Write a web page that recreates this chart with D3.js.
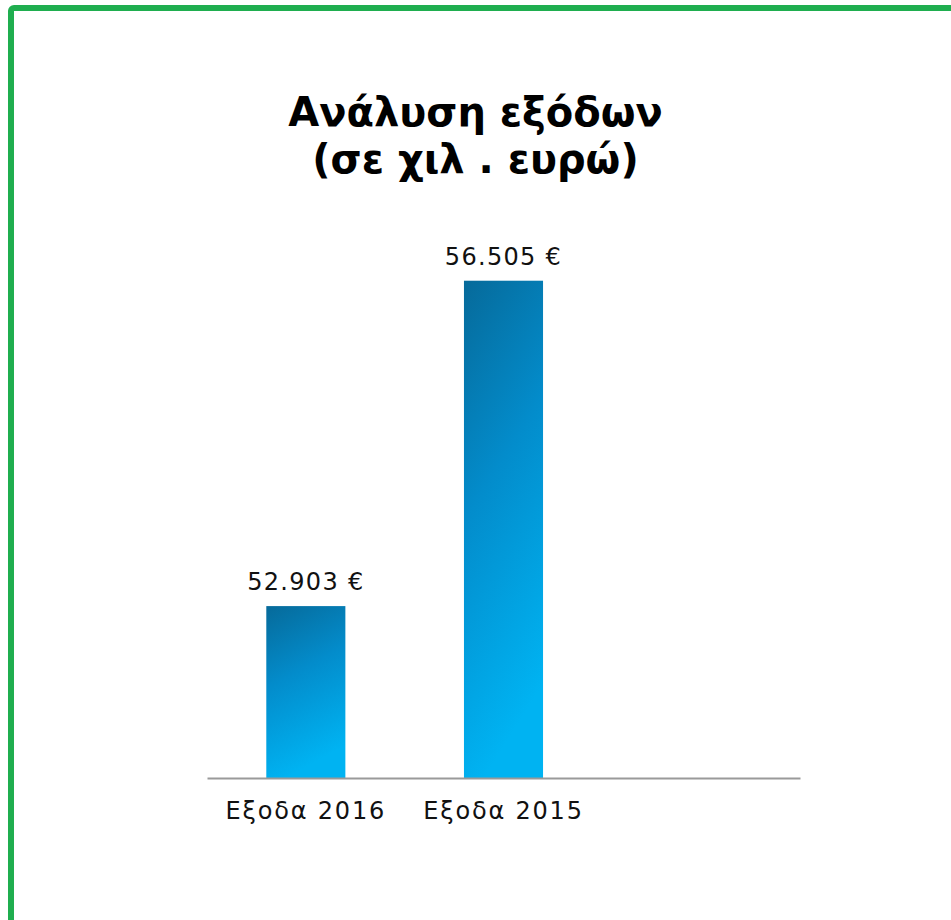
<!DOCTYPE html>
<html>
<head>
<meta charset="utf-8">
<script src="https://cdn.jsdelivr.net/npm/d3@7"></script>
<style>
  body { margin: 0; background: #fff; }
  svg { display: block; }
</style>
</head>
<body>
<svg id="chart"></svg>
<script>
// data (third slot is empty in the original)
var categories = ["Εξοδα 2016", "Εξοδα 2015", ""];
var values = [52903, 56505, null];
var valueLabels = ["52.903 €", "56.505 €", ""];
var titleLines = ["Ανάλυση εξόδων", "(σε χιλ . ευρώ)"];

var svgWidth = 951, svgHeight = 920;
var margin = {top: 236, right: 151, bottom: 142, left: 207};
var width = svgWidth - margin.left - margin.right;
var height = svgHeight - margin.top - margin.bottom;

var svg = d3.select("#chart")
  .attr("width", svgWidth)
  .attr("height", svgHeight);

// green frame, runs off the right and bottom edges
svg.append("rect")
  .attr("x", 11)
  .attr("y", 8)
  .attr("width", 1000)
  .attr("height", 1000)
  .attr("rx", 3)
  .attr("fill", "none")
  .attr("stroke", "#1fae4f")
  .attr("stroke-width", 6);

var defs = svg.append("defs");
var grad = defs.append("linearGradient")
  .attr("id", "barGrad")
  .attr("x1", "0").attr("y1", "0")
  .attr("x2", "0.25").attr("y2", "1");
grad.append("stop").attr("offset", "0%").attr("stop-color", "#066a9a");
grad.append("stop").attr("offset", "45%").attr("stop-color", "#038ccb");
grad.append("stop").attr("offset", "100%").attr("stop-color", "#00b3f2");

// title
svg.append("text")
  .attr("x", svgWidth / 2)
  .attr("text-anchor", "middle")
  .attr("font-family", "'DejaVu Sans', sans-serif")
  .attr("font-weight", "bold")
  .attr("font-size", 40)
  .attr("fill", "#000")
  .selectAll("tspan")
  .data(titleLines)
  .join("tspan")
  .attr("x", svgWidth / 2)
  .attr("y", function(d, i) { return 126 + i * 47; })
  .text(function(d) { return d; });

var g = svg.append("g")
  .attr("transform", "translate(" + margin.left + "," + margin.top + ")");

var x = d3.scaleBand()
  .domain(categories)
  .range([0, width])
  .paddingInner(0.6)
  .paddingOuter(0.3);

var y = d3.scaleLinear()
  .domain([51000, 57000])
  .range([height, 0]);

var data = categories.map(function(c, i) {
  return {cat: c, value: values[i], label: valueLabels[i]};
}).filter(function(d) { return d.value != null; });

g.selectAll("rect.bar")
  .data(data)
  .join("rect")
  .attr("class", "bar")
  .attr("x", function(d) { return x(d.cat); })
  .attr("y", function(d) { return y(d.value); })
  .attr("width", x.bandwidth())
  .attr("height", function(d) { return height - y(d.value); })
  .attr("fill", "url(#barGrad)");

g.selectAll("text.val")
  .data(data)
  .join("text")
  .attr("class", "val")
  .attr("x", function(d) { return x(d.cat) + x.bandwidth() / 2; })
  .attr("y", function(d) { return y(d.value) - 16; })
  .attr("text-anchor", "middle")
  .attr("font-family", "'DejaVu Sans', sans-serif")
  .attr("font-size", 24)
  .attr("letter-spacing", 1.3)
  .attr("fill", "#111")
  .text(function(d) { return d.label; });

var xAxis = g.append("g")
  .attr("transform", "translate(0," + height + ")")
  .call(d3.axisBottom(x).tickSize(0).tickPadding(24));

xAxis.select(".domain")
  .attr("stroke", "#9a9a9a")
  .attr("stroke-width", 2);

xAxis.selectAll(".tick text")
  .attr("font-family", "'DejaVu Sans', sans-serif")
  .attr("font-size", 24)
  .attr("letter-spacing", 1.8)
  .attr("fill", "#111");
</script>
</body>
</html>
